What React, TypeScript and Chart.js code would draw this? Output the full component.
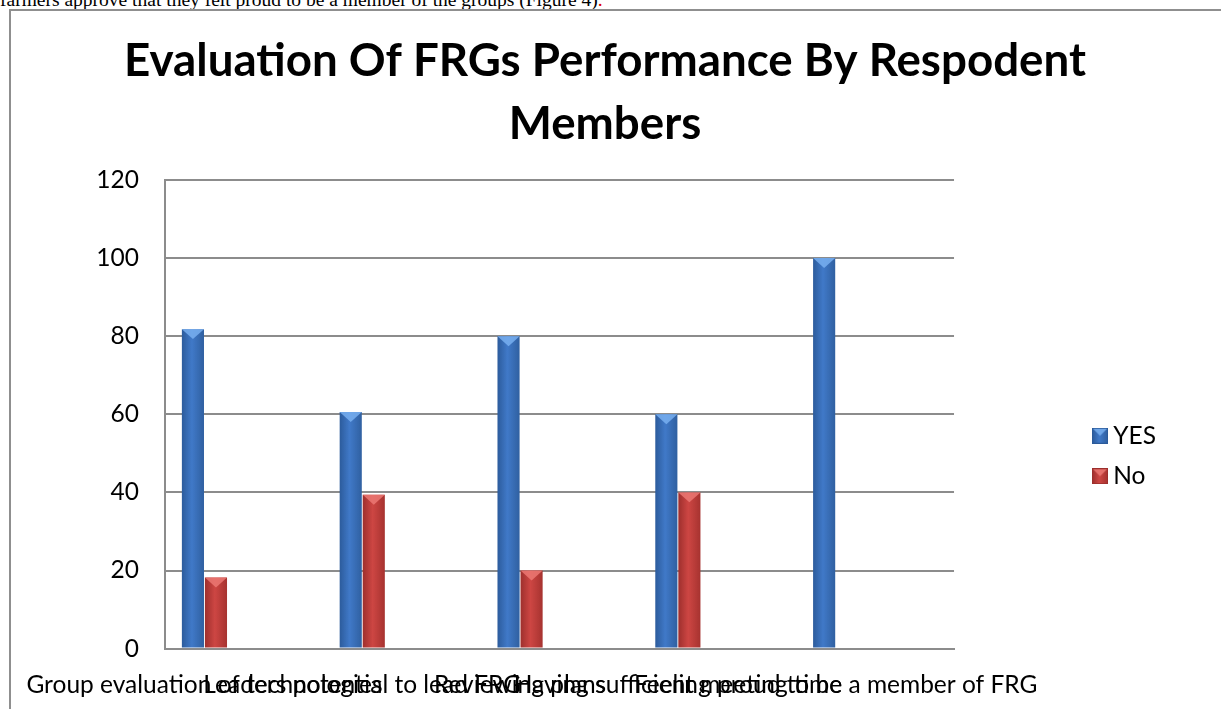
import React, { useEffect, useRef } from 'react';
import { Chart, registerables } from 'chart.js';

Chart.register(...registerables);

// ---------- data ----------
const introText = 'farmers approve that they felt proud to be a member of the groups (Figure 4)';
const titleLines = ['Evaluation Of FRGs Performance By Respodent', 'Members'];
const categories = [
  'Group evaluation of technologies',
  'Leaders potential to lead FRG',
  'Reviewing plans',
  'Having sufficient meeting time',
  'Feeling proud to be a member of FRG',
];
const seriesNames = ['YES', 'No'];
const yesValues = [81.8, 60.6, 80, 60, 100];
const noValues = [18.2, 39.4, 20, 40, 0];
const yTickValues = [0, 20, 40, 60, 80, 100, 120];

// ---------- style ----------
const FONT = "Lato, 'Open Sans', sans-serif";
const GRID = '#8c8c8c';
const CAT_PCT = 0.292;
const BAR_PCT = 0.96;
const palettes = [
  ['#2b5a9a', '#4079c8', '#2f5f9f'],
  ['#9c2e2c', '#cd4643', '#a5322f'],
];
const bevelColors = ['rgba(120,175,240,0.85)', 'rgba(235,120,115,0.85)'];

function barFill(c: any) {
  const pal = palettes[c.datasetIndex] || palettes[0];
  const chart = c.chart;
  const xs = chart.scales && chart.scales.x;
  if (c.type !== 'data' || !xs) return pal[1];
  const xv = c.parsed && c.parsed.x != null ? c.parsed.x : c.dataIndex;
  const center = xs.getPixelForValue(xv);
  const unit = xs.getPixelForValue(1) - xs.getPixelForValue(0);
  const chunk = (unit * CAT_PCT) / 2;
  const left = center - chunk + c.datasetIndex * chunk;
  if (!isFinite(left) || !isFinite(chunk)) return pal[1];
  const g = chart.ctx.createLinearGradient(left, 0, left + chunk, 0);
  g.addColorStop(0, pal[0]);
  g.addColorStop(0.45, pal[1]);
  g.addColorStop(1, pal[2]);
  return g;
}

function makeKey(pal: string[], bevel: string) {
  const c = document.createElement('canvas');
  c.width = 16;
  c.height = 16;
  const k = c.getContext('2d') as CanvasRenderingContext2D;
  const g = k.createLinearGradient(0, 0, 16, 0);
  g.addColorStop(0, pal[0]);
  g.addColorStop(0.45, pal[1]);
  g.addColorStop(1, pal[2]);
  k.fillStyle = g;
  k.fillRect(0, 0, 16, 16);
  k.fillStyle = bevel;
  k.beginPath();
  k.moveTo(1, 1);
  k.lineTo(15, 1);
  k.lineTo(8, 8);
  k.closePath();
  k.fill();
  k.strokeStyle = pal[0];
  k.lineWidth = 1;
  k.strokeRect(0.5, 0.5, 15, 15);
  return c;
}

const bevelPlugin = {
  id: 'bevelTops',
  afterDatasetsDraw(chart: any) {
    const ctx = chart.ctx;
    chart.data.datasets.forEach((_ds: any, di: number) => {
      const meta = chart.getDatasetMeta(di);
      if (meta.hidden) return;
      meta.data.forEach((el: any) => {
        const { x, y, base, width } = el.getProps(['x', 'y', 'base', 'width'], true);
        const h = base - y;
        if (!(h > 2)) return;
        const l = x - width / 2;
        const r = x + width / 2;
        const d = Math.min(width * 0.45, h);
        ctx.save();
        ctx.fillStyle = bevelColors[di];
        ctx.beginPath();
        ctx.moveTo(l, y);
        ctx.lineTo(r, y);
        ctx.lineTo(x, y + d);
        ctx.closePath();
        ctx.fill();
        ctx.restore();
      });
    });
  },
};

const CANVAS_W = 1188;
const CANVAS_H = 711;

export default function App() {
  const ref = useRef<HTMLCanvasElement | null>(null);

  useEffect(() => {
    if (!ref.current) return;
    const tickFont = { family: FONT, size: 24.5 };
    const keys = [makeKey(palettes[0], bevelColors[0]), makeKey(palettes[1], bevelColors[1])];
    const chart = new Chart(ref.current, {
      type: 'bar',
      data: {
        datasets: [
          {
            label: seriesNames[0],
            data: yesValues.map((v, i) => ({ x: i, y: v })),
            backgroundColor: barFill,
            categoryPercentage: CAT_PCT,
            barPercentage: BAR_PCT,
          },
          {
            label: seriesNames[1],
            data: noValues.map((v, i) => ({ x: i, y: v })),
            backgroundColor: barFill,
            categoryPercentage: CAT_PCT,
            barPercentage: BAR_PCT,
          },
        ],
      },
      options: {
        animation: false,
        responsive: false,
        events: [],
        layout: { padding: { left: 33, right: 33, top: 0, bottom: 0 } },
        scales: {
          x: {
            type: 'linear',
            min: -0.25,
            max: 4.75,
            offset: false,
            grid: { display: false, drawTicks: false },
            border: { display: true, color: GRID, width: 2 },
            afterBuildTicks: (s: any) => {
              s.ticks = categories.map((_c, i) => ({ value: i }));
            },
            afterFit: (s: any) => {
              s.paddingLeft = 0;
              s.paddingRight = 0;
            },
            ticks: {
              autoSkip: false,
              maxRotation: 0,
              minRotation: 0,
              padding: 22,
              color: '#000',
              font: tickFont,
              callback: (v: any) => categories[v] ?? '',
            },
          },
          y: {
            min: 0,
            max: 120,
            afterBuildTicks: (s: any) => {
              s.ticks = yTickValues.map((v) => ({ value: v }));
            },
            afterFit: (s: any) => {
              s.width = 121;
            },
            grid: { color: GRID, lineWidth: 2, drawTicks: false },
            border: { display: true, color: GRID, width: 2 },
            ticks: { padding: 26, color: '#000', font: tickFont },
          },
          yr: {
            type: 'linear',
            position: 'right',
            display: true,
            grid: { display: false, drawTicks: false },
            border: { display: false },
            ticks: { display: false },
            afterFit: (s: any) => {
              s.width = 129;
            },
          },
        },
        plugins: {
          tooltip: { enabled: false },
          title: {
            display: true,
            text: titleLines,
            color: '#000',
            font: { family: FONT, size: 45.7, weight: 'bold', lineHeight: '63px' },
            padding: { top: 19, bottom: 24 },
          },
          legend: {
            position: 'right',
            align: 'center',
            title: { display: true, text: ' ', padding: { top: 0, bottom: 164.6 } },
            labels: {
              usePointStyle: true,
              boxWidth: 2,
              boxHeight: 16,
              padding: 16,
              color: '#000',
              font: tickFont,
              generateLabels: (ch: any) =>
                ch.data.datasets.map((d: any, i: number) => ({
                  text: d.label,
                  pointStyle: keys[i],
                  fillStyle: palettes[i][1],
                  strokeStyle: palettes[i][0],
                  lineWidth: 0,
                  hidden: false,
                  datasetIndex: i,
                  fontColor: '#000',
                })),
            },
          },
        },
      } as any,
      plugins: [bevelPlugin],
    });
    return () => chart.destroy();
  }, []);

  return (
    <div
      style={{
        position: 'fixed',
        left: 0,
        top: 0,
        width: 1221,
        height: 709,
        overflow: 'hidden',
        background: '#fff',
      }}
    >
      <div
        style={{
          position: 'absolute',
          left: 0,
          top: -10,
          font: "19.5px 'Liberation Serif', 'Times New Roman', serif",
          lineHeight: '20px',
          whiteSpace: 'nowrap',
          color: '#000',
        }}
      >
        {introText}
        <span style={{ color: '#e00000' }}>.</span>
      </div>
      <div
        style={{
          position: 'absolute',
          left: 9,
          top: 9,
          width: 1400,
          height: 900,
          border: '2px solid #8f8f8f',
          boxSizing: 'border-box',
        }}
      />
      <div style={{ position: 'absolute', left: 11, top: 11, width: CANVAS_W, height: CANVAS_H }}>
        <canvas
          ref={ref}
          width={CANVAS_W}
          height={CANVAS_H}
          style={{ width: CANVAS_W, height: CANVAS_H, display: 'block' }}
        />
      </div>
    </div>
  );
}
